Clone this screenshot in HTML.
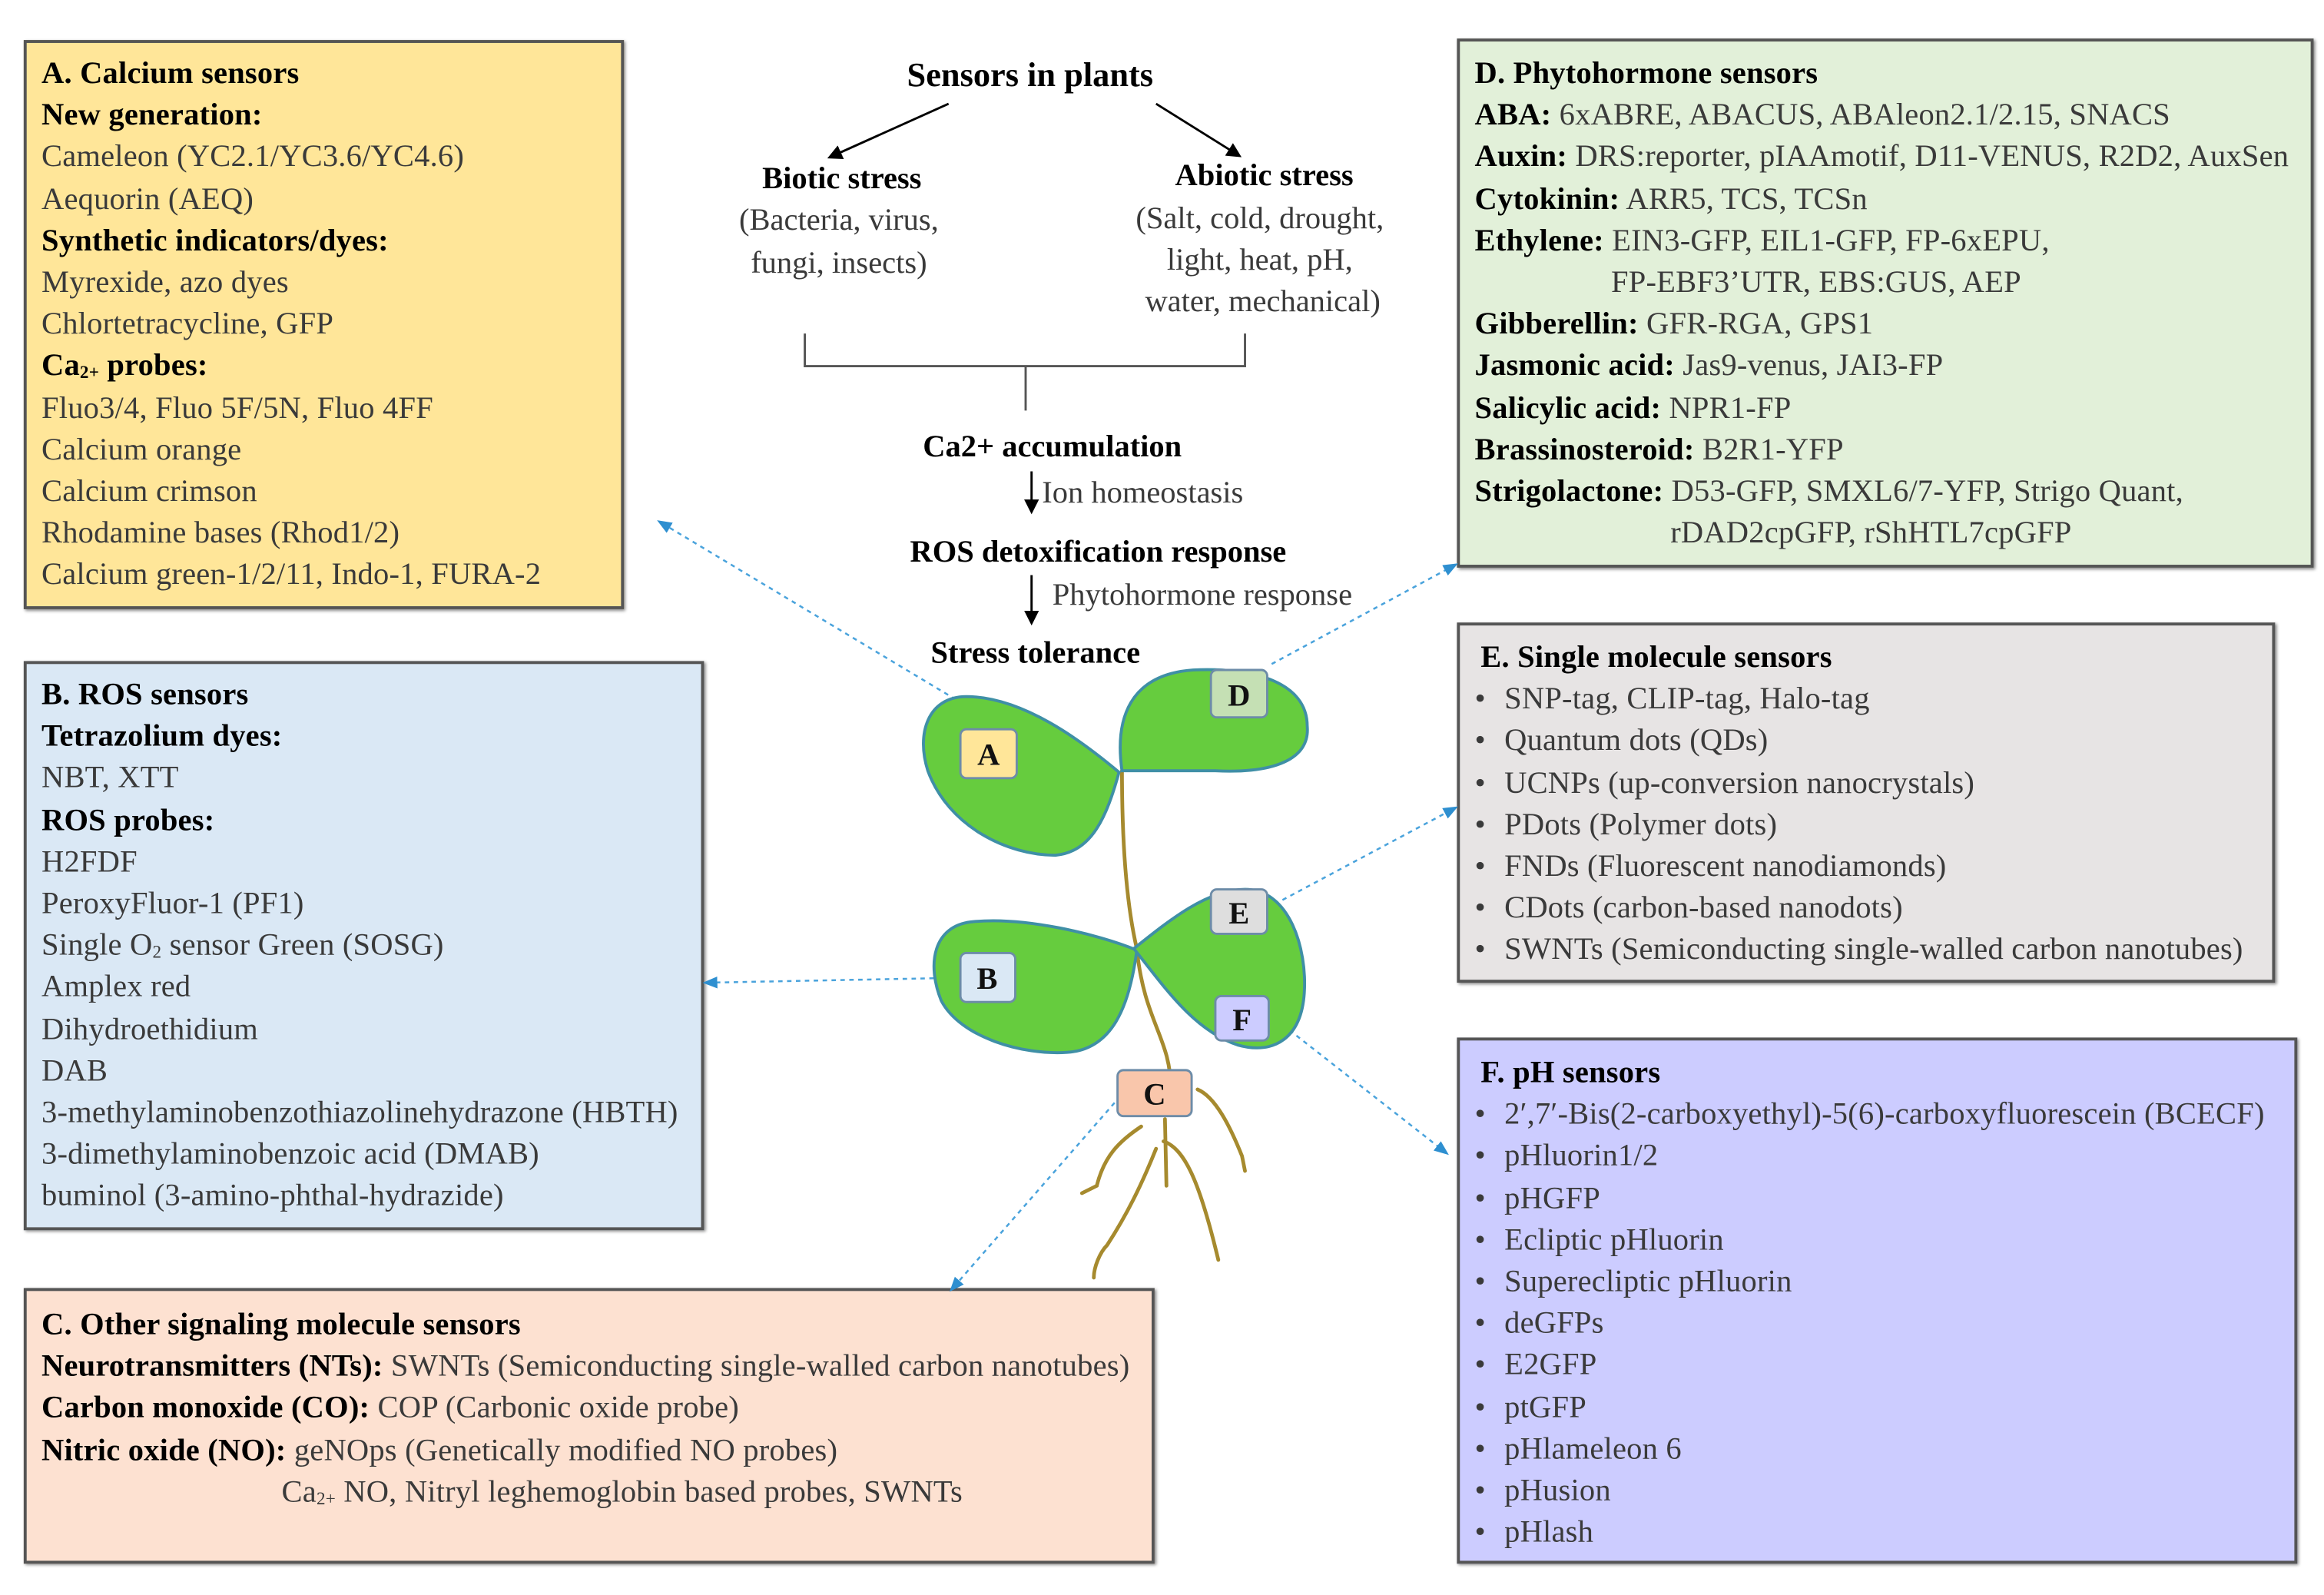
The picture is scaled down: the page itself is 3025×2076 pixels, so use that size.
<!DOCTYPE html>
<html><head><meta charset="utf-8">
<style>
html,body{margin:0;padding:0;background:#fff;}
body{width:3025px;height:2076px;overflow:hidden;position:relative;}
#s{position:absolute;left:0;top:0;width:1568px;height:1076px;transform:scale(1.9292);transform-origin:0 0;font-family:"Liberation Serif",serif;}
.box{position:absolute;border:2px solid #555;box-sizing:border-box;box-shadow:1px 1px 2px #888;}
.t{position:absolute;left:10px;font-size:21px;line-height:28.2px;color:#3a3a3a;white-space:nowrap;letter-spacing:0.1px;}
.t b{color:#000;}
.t div{height:28.2px;}
sub{font-size:12px;vertical-align:-2px;line-height:0;}
.bl{padding-left:26px;position:relative;}
.bl:before{content:"•";position:absolute;left:6px;}
svg{position:absolute;left:0;top:0;}
svg text{font-family:"Liberation Serif",serif;}
</style></head><body><div id="s">

<div class="box" style="left:16px;top:27px;width:405px;height:384px;background:#ffe699;">
<div class="t" style="top:6px;">
<div><b>A. Calcium sensors</b></div>
<div><b>New generation:</b></div>
<div>Cameleon (YC2.1/YC3.6/YC4.6)</div>
<div>Aequorin (AEQ)</div>
<div><b>Synthetic indicators/dyes:</b></div>
<div>Myrexide, azo dyes</div>
<div>Chlortetracycline, GFP</div>
<div><b>Ca<sub>2+</sub> probes:</b></div>
<div>Fluo3/4, Fluo 5F/5N, Fluo 4FF</div>
<div>Calcium orange</div>
<div>Calcium crimson</div>
<div>Rhodamine bases (Rhod1/2)</div>
<div>Calcium green-1/2/11, Indo-1, FURA-2</div>
</div></div>

<div class="box" style="left:16px;top:446px;width:459px;height:384px;background:#dae8f5;">
<div class="t" style="top:6px;">
<div><b>B. ROS sensors</b></div>
<div><b>Tetrazolium dyes:</b></div>
<div>NBT, XTT</div>
<div><b>ROS probes:</b></div>
<div>H2FDF</div>
<div>PeroxyFluor-1 (PF1)</div>
<div>Single O<sub>2</sub> sensor Green (SOSG)</div>
<div>Amplex red</div>
<div>Dihydroethidium</div>
<div>DAB</div>
<div>3-methylaminobenzothiazolinehydrazone (HBTH)</div>
<div>3-dimethylaminobenzoic acid (DMAB)</div>
<div>buminol (3-amino-phthal-hydrazide)</div>
</div></div>

<div class="box" style="left:16px;top:869px;width:763px;height:186px;background:#fde1d1;">
<div class="t" style="top:8px;">
<div><b>C. Other signaling molecule sensors</b></div>
<div><b>Neurotransmitters (NTs):</b> SWNTs (Semiconducting single-walled carbon nanotubes)</div>
<div><b>Carbon monoxide (CO):</b> COP (Carbonic oxide probe)</div>
<div><b>Nitric oxide (NO):</b> geNOps (Genetically modified NO probes)</div>
<div style="padding-left:162px;">Ca<sub>2+</sub> NO, Nitryl leghemoglobin based probes, SWNTs</div>
</div></div>

<div class="box" style="left:983px;top:26px;width:578px;height:357px;background:#e2f0d9;">
<div class="t" style="top:7px;">
<div><b>D. Phytohormone sensors</b></div>
<div><b>ABA:</b> 6xABRE, ABACUS, ABAleon2.1/2.15, SNACS</div>
<div><b>Auxin:</b> DRS:reporter, pIAAmotif, D11-VENUS, R2D2, AuxSen</div>
<div><b>Cytokinin:</b> ARR5, TCS, TCSn</div>
<div><b>Ethylene:</b> EIN3-GFP, EIL1-GFP, FP-6xEPU,</div>
<div style="padding-left:92px;">FP-EBF3’UTR, EBS:GUS, AEP</div>
<div><b>Gibberellin:</b> GFR-RGA, GPS1</div>
<div><b>Jasmonic acid:</b> Jas9-venus, JAI3-FP</div>
<div><b>Salicylic acid:</b> NPR1-FP</div>
<div><b>Brassinosteroid:</b> B2R1-YFP</div>
<div><b>Strigolactone:</b> D53-GFP, SMXL6/7-YFP, Strigo Quant,</div>
<div style="padding-left:132px;">rDAD2cpGFP, rShHTL7cpGFP</div>
</div></div>

<div class="box" style="left:983px;top:420px;width:552px;height:243px;background:#e7e4e4;">
<div class="t" style="top:7px;left:4px;">
<div style="padding-left:10px;"><b>E. Single molecule sensors</b></div>
<div class="bl">SNP-tag, CLIP-tag, Halo-tag</div>
<div class="bl">Quantum dots (QDs)</div>
<div class="bl">UCNPs (up-conversion nanocrystals)</div>
<div class="bl">PDots (Polymer dots)</div>
<div class="bl">FNDs (Fluorescent nanodiamonds)</div>
<div class="bl">CDots (carbon-based nanodots)</div>
<div class="bl">SWNTs (Semiconducting single-walled carbon nanotubes)</div>
</div></div>

<div class="box" style="left:983px;top:700px;width:567px;height:355px;background:#ccccff;">
<div class="t" style="top:7px;left:4px;">
<div style="padding-left:10px;"><b>F. pH sensors</b></div>
<div class="bl">2′,7′-Bis(2-carboxyethyl)-5(6)-carboxyfluorescein (BCECF)</div>
<div class="bl">pHluorin1/2</div>
<div class="bl">pHGFP</div>
<div class="bl">Ecliptic pHluorin</div>
<div class="bl">Superecliptic pHluorin</div>
<div class="bl">deGFPs</div>
<div class="bl">E2GFP</div>
<div class="bl">ptGFP</div>
<div class="bl">pHlameleon 6</div>
<div class="bl">pHusion</div>
<div class="bl">pHlash</div>
</div></div>

<svg width="1568" height="1076" viewBox="0 0 1568 1076">
<defs>
<marker id="ak" markerWidth="10" markerHeight="10" refX="8" refY="5" orient="auto" markerUnits="userSpaceOnUse"><path d="M0,0 L10,5 L0,10 z" fill="#000"/></marker>
<marker id="ab" markerWidth="10" markerHeight="10" refX="8" refY="5" orient="auto" markerUnits="userSpaceOnUse"><path d="M0,1 L10,5 L0,9 z" fill="#2e8fd0"/></marker>
</defs>
<g font-size="21" fill="#000">
<text x="695" y="58" text-anchor="middle" font-weight="bold" font-size="23">Sensors in plants</text>
<text x="568" y="127" text-anchor="middle" font-weight="bold">Biotic stress</text>
<text x="566" y="155" text-anchor="middle" fill="#3a3a3a">(Bacteria, virus,</text>
<text x="566" y="184" text-anchor="middle" fill="#3a3a3a">fungi, insects)</text>
<text x="853" y="125" text-anchor="middle" font-weight="bold">Abiotic stress</text>
<text x="850" y="154" text-anchor="middle" fill="#3a3a3a">(Salt, cold, drought,</text>
<text x="850" y="182" text-anchor="middle" fill="#3a3a3a">light, heat, pH,</text>
<text x="852" y="210" text-anchor="middle" fill="#3a3a3a">water, mechanical)</text>
<text x="710" y="308" text-anchor="middle" font-weight="bold">Ca2+ accumulation</text>
<text x="703" y="339" fill="#3a3a3a">Ion homeostasis</text>
<text x="614" y="379" font-weight="bold">ROS detoxification response</text>
<text x="710" y="408" fill="#3a3a3a">Phytohormone response</text>
<text x="628" y="447" font-weight="bold">Stress tolerance</text>
</g>
<g stroke="#000" stroke-width="1.5" fill="none">
<line x1="640" y1="70" x2="560" y2="106" marker-end="url(#ak)"/>
<line x1="780" y1="70" x2="836" y2="105" marker-end="url(#ak)"/>
<path d="M543,225 L543,247 L840,247 L840,225" stroke="#555"/>
<path d="M692,247 L692,277" stroke="#555"/>
<line x1="696" y1="318" x2="696" y2="345" marker-end="url(#ak)"/>
<line x1="696" y1="388" x2="696" y2="420" marker-end="url(#ak)"/>
</g>
<g stroke="#4aa3dc" stroke-width="1.3" stroke-dasharray="3,3" fill="none">
<line x1="650" y1="475" x2="445" y2="352" marker-end="url(#ab)"/>
<line x1="858" y1="448" x2="982" y2="381" marker-end="url(#ab)"/>
<line x1="630" y1="660" x2="476" y2="663" marker-end="url(#ab)"/>
<line x1="860" y1="610" x2="982" y2="545" marker-end="url(#ab)"/>
<line x1="870" y1="695" x2="976" y2="778" marker-end="url(#ab)"/>
<line x1="752" y1="744" x2="642" y2="870" marker-end="url(#ab)"/>
</g>
<g stroke="#a68a2e" stroke-width="2.5" fill="none" stroke-linecap="round">
<path d="M757,520 C757,570 760,610 767,640 C772,690 790,700 790,735"/>
<path d="M786,755 L787,800"/>
<path d="M770,760 C755,770 745,780 740,800 L730,805"/>
<path d="M785,770 C800,775 810,800 822,850"/>
<path d="M780,775 C770,800 760,820 747,840 C742,845 738,855 738,862"/>
<path d="M808,735 C820,740 830,760 838,780 L840,790"/>
</g>
<g fill="#66cc3e" stroke="#3f8fa6" stroke-width="2">
<path d="M755,521 C730,500 690,470 652,470 C626,470 618,495 626,520 C640,558 680,577 712,577 C737,575 747,550 755,521 z"/>
<path d="M757,520 C752,485 762,455 805,452 C845,450 882,460 882,490 C884,512 860,522 820,520 L757,520 z"/>
<path d="M767,641 C740,630 690,618 655,622 C630,625 625,650 635,675 C648,700 690,712 720,710 C750,708 762,680 767,641 z"/>
<path d="M765,640 C790,620 815,600 840,600 C870,600 882,640 880,670 C878,700 860,712 835,705 C805,695 785,665 765,640 z"/>
</g>
<g stroke="#6d8ca8" stroke-width="1.5">
<rect x="648" y="492" width="38" height="33" rx="4" fill="#ffe699"/>
<rect x="817" y="452" width="38" height="32" rx="4" fill="#c5e0b4"/>
<rect x="648" y="643" width="37" height="33" rx="4" fill="#dae8f5"/>
<rect x="817" y="600" width="38" height="30" rx="4" fill="#dedede"/>
<rect x="820" y="672" width="36" height="30" rx="4" fill="#ccccff"/>
<rect x="754" y="722" width="50" height="31" rx="4" fill="#f9c6ab"/>
</g>
<g font-size="21" font-weight="bold" text-anchor="middle" fill="#111">
<text x="667" y="516">A</text>
<text x="836" y="476">D</text>
<text x="666" y="667">B</text>
<text x="836" y="623">E</text>
<text x="838" y="695">F</text>
<text x="779" y="745">C</text>
</g>
</svg>
</div></body></html>
